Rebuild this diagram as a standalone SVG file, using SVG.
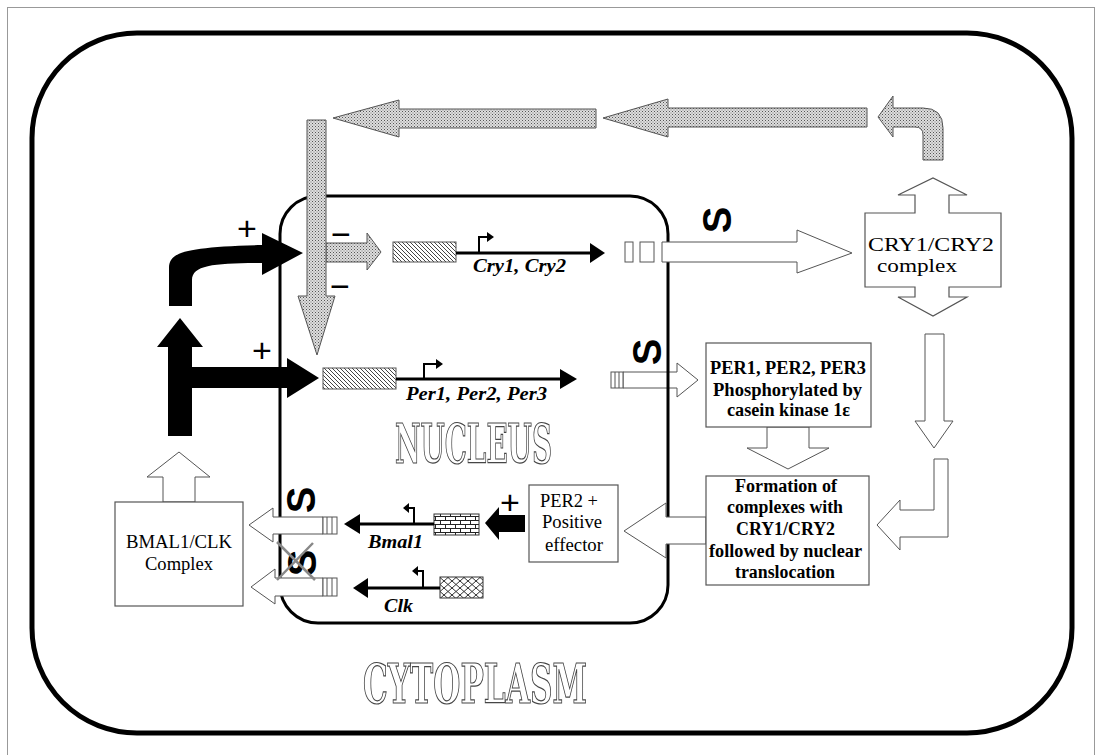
<svg xmlns="http://www.w3.org/2000/svg" width="1097" height="755" viewBox="0 0 1097 755">
<defs>
<pattern id="stip" width="3" height="3" patternUnits="userSpaceOnUse"><rect width="3" height="3" fill="#dedede"/><rect width="1" height="1" fill="#555"/><rect x="1.5" y="1.5" width="1" height="1" fill="#777"/></pattern>
<pattern id="hatch" width="4" height="4" patternUnits="userSpaceOnUse"><rect width="4" height="4" fill="#fff"/><path d="M-1,-1 L5,5 M-1,3 L1,5 M3,-1 L5,1" stroke="#444" stroke-width="1"/></pattern>
<pattern id="brick" width="10" height="8" patternUnits="userSpaceOnUse"><rect width="10" height="8" fill="#fff"/><path d="M0,0.5 H10 M0,4.5 H10 M0.5,0.5 V4.5 M5.5,4.5 V8" stroke="#222" stroke-width="1" fill="none"/></pattern>
<pattern id="scale" width="8" height="7" patternUnits="userSpaceOnUse"><rect width="8" height="7" fill="#fff"/><path d="M0,3.5 L4,0 L8,3.5 L4,7 Z" stroke="#333" stroke-width="1" fill="none"/></pattern>
<filter id="gray" x="0" y="0" width="1" height="1"><feOffset dx="0" dy="0"/></filter>
<style>
.w{fill:#fff;stroke:#555;stroke-width:1}
.g{fill:url(#stip);stroke:#555;stroke-width:1}
.b{fill:#000}
.box{fill:#fff;stroke:#555;stroke-width:1.2}
.ln{fill:none;stroke:#000;stroke-width:3}
.pr{fill:none;stroke:#000;stroke-width:2}
.t{font-family:"Liberation Serif",serif;font-size:18px}
.tb{font-weight:bold}
.gene{font-family:"Liberation Serif",serif;font-size:18px;font-weight:bold;font-style:italic}
.sym{font-family:"Liberation Sans",sans-serif;font-size:34px;text-anchor:middle}
.s{font-family:"Liberation Sans",sans-serif;font-weight:bold;font-size:40px;text-anchor:middle;dominant-baseline:central}
.big{font-family:"DejaVu Serif","Liberation Serif",serif;font-stretch:condensed;font-weight:bold;font-size:55px;fill:#fff;stroke:#444;stroke-width:1.2}
</style>
</defs>
<rect x="7.5" y="7.5" width="1087" height="760" fill="#fff" stroke="#999" stroke-width="1"/>
<g id="cell"><rect x="32" y="33" width="1040" height="700" rx="105" ry="105" fill="none" stroke="#000" stroke-width="5"/></g>
<g id="per-export"><polygon class="w" points="623,372 677,372 677,363 698,380 677,397 677,388 623,388"/></g>
<g id="nucleus"><rect x="280" y="196" width="388" height="427" rx="38" ry="38" fill="none" stroke="#000" stroke-width="3"/></g>
<g id="labels" filter="url(#gray)" style="opacity:0.99">
<text class="big" x="395" y="463" textLength="157" lengthAdjust="spacingAndGlyphs">NUCLEUS</text>
<text class="big" x="363" y="703" textLength="224" lengthAdjust="spacingAndGlyphs">CYTOPLASM</text>
</g>
<g id="connectors">
<polygon class="g" points="596,109 399,109 399,100 333,118 399,137 399,128 596,128"/>
<polygon class="g" points="867,108 668,108 668,99 603,118 668,137 668,127 867,127"/>
<path class="g" d="M923,160 L943,160 L943,128 Q943,108 923,108 L893,108 L893,96 L878,117 L893,137 L893,127 L915,127 Q923,127 923,135 Z"/>
<polygon class="g" points="326,243 367,243 367,233 381,252 367,270 367,262 326,262"/>
<path class="g" d="M307,120 L326,120 L326,296 L335,296 L317,355 L298,296 L307,296 Z"/>
<path class="b" d="M169,306 L169,268 C169,252 185,247 262,245 L262,233 L303,253 L262,275 L262,263 C215,263 192,265 192,280 L192,306 Z"/>
<path class="b" d="M168,436 L168,347 L157,347 L180,318 L203,347 L192,347 L192,367 L287,367 L287,358 L319,378 L287,398 L287,388 L192,388 L192,436 Z"/>
<polygon class="w" points="662,242 797,242 797,230 852,253 797,273 797,262 662,262"/>
<path class="w" d="M767,427 L809,427 L809,448 L829,448 L788,469 L747,448 L767,448 Z"/>
<path class="w" d="M925,334 L944,334 L944,421 L953,421 L934,448 L915,421 L925,421 Z"/>
<path class="w" d="M934,459 L948,459 L948,537 L900,537 L900,550 L877,525 L900,500 L900,510 L934,510 Z"/>
<polygon class="w" points="706,517 666,517 666,503 624,531 666,558 666,544 706,544"/>
<polygon class="b" points="525,515 499,515 499,507 485,523 499,540 499,532 525,532"/>
<polygon class="w" points="323,517 273,517 273,508 249,525 273,542 273,534 323,534"/>
<polygon class="w" points="323,578 275,578 275,569 251,587 275,604 275,596 323,596"/>
<path class="w" d="M163,502 L163,477 L147,477 L179,452 L210,477 L195,477 L195,502 Z"/>
<text class="sym" x="247" y="240">+</text>
<text class="sym" x="262" y="362">+</text>
<text class="sym" x="510" y="514">+</text>
<text class="sym" x="341" y="246">−</text>
<text class="sym" x="340" y="298">−</text>
<text class="s" transform="translate(717,220) rotate(-90)">S</text>
<text class="s" transform="translate(647,352) rotate(-90)">S</text>
<text class="s" transform="translate(301,500) rotate(-90)">S</text>
<text class="s" transform="translate(302,563) rotate(-90)">S</text>
<path d="M277,542 L315,580 M313,543 L277,580" stroke="#888" stroke-width="2.5" fill="none"/>
</g>
<g id="cry-gene">
<rect x="393" y="242" width="63" height="20" fill="url(#hatch)" stroke="#555"/>
<path class="ln" d="M456,253 H592"/><polygon class="b" points="590,243 605,253 590,263"/>
<path class="pr" d="M479,253 V237 H488"/><polygon class="b" points="487,232 494,237 487,242"/>
<text class="gene" x="473" y="272" textLength="93" lengthAdjust="spacingAndGlyphs">Cry1, Cry2</text>
<rect x="625" y="242" width="8" height="20" fill="#fff" stroke="#555"/>
<rect x="640" y="242" width="14" height="20" fill="#fff" stroke="#555"/>
</g>
<g id="per-gene">
<rect x="323" y="368" width="73" height="21" fill="url(#hatch)" stroke="#555"/>
<path class="ln" d="M396,379 H562"/><polygon class="b" points="560,369 577,379 560,389"/>
<path class="pr" d="M424,379 V364 H437"/><polygon class="b" points="436,359 443,364 436,369"/>
<text class="gene" x="406" y="400" textLength="141" lengthAdjust="spacingAndGlyphs">Per1, Per2, Per3</text>
<rect x="611" y="372" width="12" height="16" fill="#fff" stroke="#555"/>
<path d="M615,372 V388 M619,372 V388" stroke="#555"/>
</g>
<g id="bmal-gene">
<rect x="434" y="514" width="45" height="21" fill="url(#brick)" stroke="#333"/>
<path class="ln" d="M358,524 H434"/><polygon class="b" points="360,514 344,524 360,534"/>
<path class="pr" d="M414,524 V508 H407"/><polygon class="b" points="409,503 403,508 409,513"/>
<text class="gene" x="368" y="548" textLength="55" lengthAdjust="spacingAndGlyphs">Bmal1</text>
<rect x="323" y="517" width="14" height="17" fill="#fff" stroke="#555"/>
<path d="M327,517 V534 M332,517 V534" stroke="#555"/>
</g>
<g id="clk-gene">
<rect x="440" y="577" width="43" height="21" fill="url(#scale)" stroke="#333"/>
<path class="ln" d="M366,588 H440"/><polygon class="b" points="368,578 353,588 368,598"/>
<path class="pr" d="M423,588 V571 H416"/><polygon class="b" points="418,566 412,571 418,576"/>
<text class="gene" x="384" y="612" textLength="29" lengthAdjust="spacingAndGlyphs">Clk</text>
<rect x="323" y="578" width="14" height="18" fill="#fff" stroke="#555"/>
<path d="M327,578 V596 M332,578 V596" stroke="#555"/>
</g>
<g id="cry-complex">
<path class="box" d="M865,213 L915,213 L915,195 L898,195 L933,178 L967,195 L949,195 L949,213 L1001,213 L1001,287 L949,287 L949,297 L967,297 L933,316 L898,297 L915,297 L915,287 L865,287 Z"/>
<text class="t" x="868" y="251" textLength="126" lengthAdjust="spacingAndGlyphs">CRY1/CRY2</text>
<text class="t" x="877" y="272" textLength="80" lengthAdjust="spacingAndGlyphs">complex</text>
</g>
<g id="per-box">
<rect class="box" x="706" y="343" width="165" height="84"/>
<text class="t tb" x="710" y="374" textLength="156" lengthAdjust="spacingAndGlyphs">PER1, PER2, PER3</text>
<text class="t tb" x="713" y="396" textLength="149" lengthAdjust="spacingAndGlyphs">Phosphorylated  by</text>
<text class="t tb" x="727" y="416" textLength="123" lengthAdjust="spacingAndGlyphs">casein kinase 1ε</text>
</g>
<g id="formation-box">
<rect class="box" x="706" y="476" width="163" height="109"/>
<text class="t tb" x="735" y="492" textLength="102" lengthAdjust="spacingAndGlyphs">Formation of</text>
<text class="t tb" x="727" y="513" textLength="116" lengthAdjust="spacingAndGlyphs">complexes with</text>
<text class="t tb" x="736" y="535" textLength="99" lengthAdjust="spacingAndGlyphs">CRY1/CRY2</text>
<text class="t tb" x="709" y="557" textLength="153" lengthAdjust="spacingAndGlyphs">followed by nuclear</text>
<text class="t tb" x="735" y="578" textLength="100" lengthAdjust="spacingAndGlyphs">translocation</text>
</g>
<g id="per2-box">
<rect class="box" x="529" y="485" width="89" height="77"/>
<text class="t" x="540" y="507" textLength="58" lengthAdjust="spacingAndGlyphs">PER2 +</text>
<text class="t" x="542" y="528" textLength="60" lengthAdjust="spacingAndGlyphs">Positive</text>
<text class="t" x="545" y="551" textLength="58" lengthAdjust="spacingAndGlyphs">effector</text>
</g>
<g id="bmal-box">
<rect class="box" x="115" y="502" width="128" height="104"/>
<text class="t" x="126" y="548" textLength="106" lengthAdjust="spacingAndGlyphs">BMAL1/CLK</text>
<text class="t" x="145" y="570" textLength="68" lengthAdjust="spacingAndGlyphs">Complex</text>
</g>
</svg>
